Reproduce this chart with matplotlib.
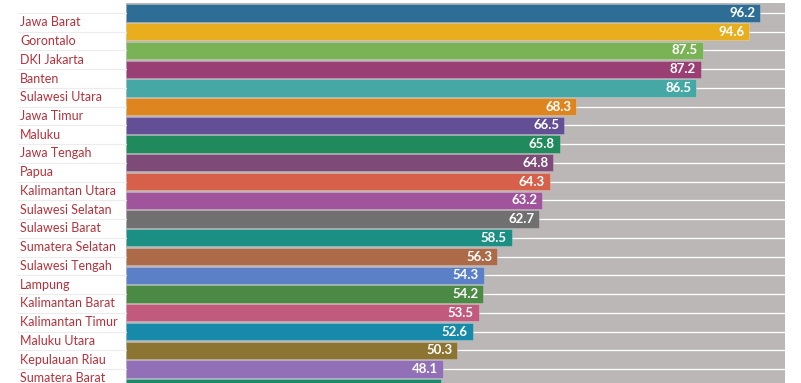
import matplotlib.pyplot as plt
from matplotlib.transforms import blended_transform_factory


# =========================================================
# DATA
# =========================================================
provinces = [
    "Jawa Barat", "Gorontalo", "DKI Jakarta", "Banten", "Sulawesi Utara",
    "Jawa Timur", "Maluku", "Jawa Tengah", "Papua", "Kalimantan Utara",
    "Sulawesi Selatan", "Sulawesi Barat", "Sumatera Selatan", "Sulawesi Tengah",
    "Lampung", "Kalimantan Barat", "Kalimantan Timur", "Maluku Utara",
    "Kepulauan Riau", "Sumatera Barat", "",
]
values = [
    96.2, 94.6, 87.5, 87.2, 86.5, 68.3, 66.5, 65.8, 64.8, 64.3,
    63.2, 62.7, 58.5, 56.3, 54.3, 54.2, 53.5, 52.6, 50.3, 48.1, 47.8,
]
colors = [
    "#2e6e96", "#e8ae1e", "#7ab356", "#9a3f73", "#45a8a4",
    "#de8520", "#634f96", "#218a5c", "#7e4a78", "#d6604a",
    "#a0549c", "#707070", "#1b8f84", "#ad6a48", "#5b80c8",
    "#4b8a45", "#c25a7d", "#178aaa", "#8c7532", "#9170b8", "#1b8a68",
]

W, H = 801, 383
ROW = 18.74

# =========================================================
# PLOT
# =========================================================
plt.rcParams["font.family"] = ["Lato", "DejaVu Sans"]

fig = plt.figure(figsize=(W / 100, H / 100), dpi=100)
fig.patch.set_facecolor("white")

ax_left, ax_right, ax_top = 126, 785, 3
ax = fig.add_axes([ax_left / W, 0, (ax_right - ax_left) / W, (H - ax_top) / H])
ax.set_facecolor("#bcb7b7")

y = list(range(len(values)))
top = -0.53
ax.set_ylim(top + (H - ax_top) / ROW, top)
ax.set_xlim(0, 100)

# white gridlines through each row
for yi in y:
    ax.axhline(yi, color="white", lw=0.9, zorder=1)

ax.barh(y, values, height=0.92, color=colors, edgecolor=(1, 1, 1, 0.25),
        linewidth=0.6, zorder=2)

for yi, v in zip(y, values):
    ax.annotate(f"{v:.1f}", xy=(v, yi), xytext=(-3.5, 0), textcoords="offset points",
                ha="right", va="center", color="white", fontsize=9.5,
                fontweight="bold", zorder=3)

# labels on the left with separator lines
trans = blended_transform_factory(fig.transFigure, ax.transData)
for yi, name in zip(y, provinces):
    ax.plot([18 / W, ax_left / W], [yi, yi], transform=trans, color="#ececec",
            lw=0.8, clip_on=False)
    if name:
        ax.text(20 / W, yi + 0.5, name, transform=trans, ha="left", va="center",
                color="#b5313b", fontsize=9, clip_on=False)

ax.set_xticks([])
ax.set_yticks([])
for s in ax.spines.values():
    s.set_visible(False)

fig.savefig("out.png", dpi=100)
